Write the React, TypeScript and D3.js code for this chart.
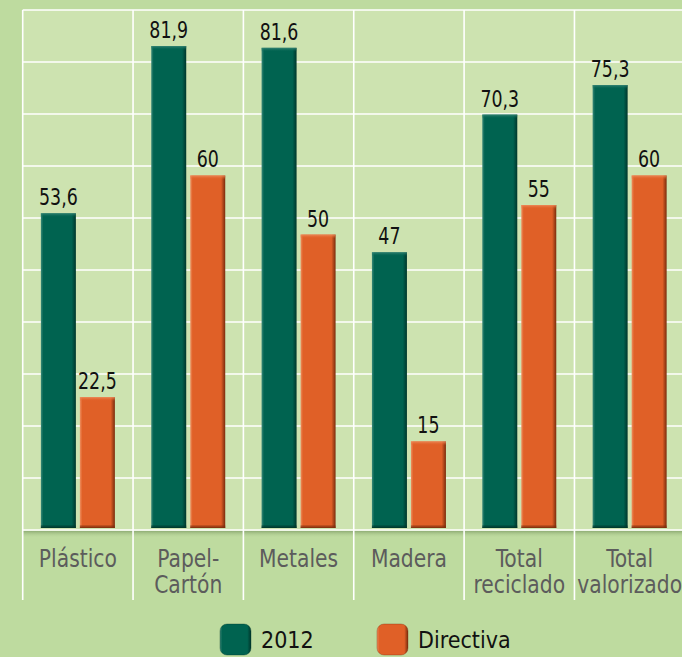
import React from "react";
import * as d3 from "d3";

const categories: string[][] = [
  ["Plástico"],
  ["Papel-", "Cartón"],
  ["Metales"],
  ["Madera"],
  ["Total", "reciclado"],
  ["Total", "valorizado"],
];
const values2012 = [53.6, 81.9, 81.6, 47, 70.3, 75.3];
const valuesDirectiva = [22.5, 60, 50, 15, 55, 60];
const labels2012 = ["53,6", "81,9", "81,6", "47", "70,3", "75,3"];
const labelsDirectiva = ["22,5", "60", "50", "15", "55", "60"];
const seriesNames = ["2012", "Directiva"];
const gridTicks = d3.range(0, 11).map((i) => i * 8.8);

const W = 682;
const H = 657;
const plotLeft = 22.7;
const bandW = 110.35;
const plotTop = 10;
const plotBottom = 530;

const OUTER = "#bedb9f";
const INNER = "#cde3b0";
const GREEN = "#006350";
const ORANGE = "#e06027";
const FONT = "'DejaVu Sans Condensed', 'DejaVu Sans', sans-serif";

export default function App() {
  const x = d3
    .scaleBand<number>()
    .domain(d3.range(categories.length))
    .range([plotLeft, plotLeft + bandW * categories.length])
    .paddingInner(0)
    .paddingOuter(0);
  const y = d3.scaleLinear().domain([0, 88]).range([plotBottom, plotTop]);
  const barW = 35;
  const gap = 4;
  const bw = x.bandwidth();

  const Bar = ({ xPos, v, id }: { xPos: number; v: number; id: string }) => {
    const top = y(v);
    const bottom = y(0) - 2;
    const h = bottom - top;
    return (
      <g>
        <rect x={xPos} y={top} width={barW} height={h} fill={`url(#h-${id})`} />
        <rect x={xPos} y={top} width={barW} height={4} fill={`url(#t-${id})`} />
        <rect x={xPos} y={bottom - 3} width={barW} height={3} fill={`url(#b-${id})`} />
      </g>
    );
  };

  const ValueLabel = ({ cx, cy, text }: { cx: number; cy: number; text: string }) => (
    <text
      transform={`translate(${cx},${cy}) scale(0.86,1)`}
      textAnchor="middle"
      fontFamily={FONT}
      fontSize={22.5}
      fill="#111"
    >
      {text}
    </text>
  );

  const grads = [
    { id: "g", base: GREEN, light: "#3b8878", dark: "#00362b" },
    { id: "o", base: ORANGE, light: "#ee9060", dark: "#7a2c0c" },
  ];

  return (
    <div style={{ position: "fixed", left: 0, top: 0 }}>
      <svg width={W} height={H} style={{ display: "block" }}>
        <defs>
          {grads.map((g) => (
            <React.Fragment key={g.id}>
              <linearGradient id={`h-${g.id}`} x1="0" x2="1" y1="0" y2="0">
                <stop offset="0" stopColor={g.light} />
                <stop offset="0.07" stopColor={g.base} />
                <stop offset="0.88" stopColor={g.base} />
                <stop offset="1" stopColor={g.dark} />
              </linearGradient>
              <linearGradient id={`t-${g.id}`} x1="0" x2="0" y1="0" y2="1">
                <stop offset="0" stopColor={g.light} stopOpacity={0.9} />
                <stop offset="1" stopColor={g.base} stopOpacity={0} />
              </linearGradient>
              <linearGradient id={`b-${g.id}`} x1="0" x2="0" y1="0" y2="1">
                <stop offset="0" stopColor={g.dark} stopOpacity={0.2} />
                <stop offset="1" stopColor={g.dark} stopOpacity={1} />
              </linearGradient>
            </React.Fragment>
          ))}
          <linearGradient id="shadow" x1="0" x2="0" y1="0" y2="1">
            <stop offset="0" stopColor="#8aa870" stopOpacity={0.9} />
            <stop offset="1" stopColor={OUTER} stopOpacity={0} />
          </linearGradient>
        </defs>
        <rect x={0} y={0} width={W} height={H} fill={OUTER} />
        <rect x={plotLeft} y={plotTop} width={W - plotLeft} height={plotBottom - plotTop} fill={INNER} />
        <rect x={plotLeft} y={plotBottom + 1} width={W - plotLeft} height={7} fill="url(#shadow)" />
        {gridTicks.map((t) => (
          <line key={t} x1={plotLeft} x2={W} y1={y(t)} y2={y(t)} stroke="#fff" strokeWidth={1.6} />
        ))}
        {d3.range(categories.length + 1).map((i) => {
          const xx = plotLeft + i * bw;
          return <line key={i} x1={xx} x2={xx} y1={plotTop} y2={600} stroke="#fff" strokeWidth={1.6} />;
        })}
        {categories.map((c, i) => {
          const x0 = x(i)!;
          const gx = x0 + (bw - 2 * barW - gap) / 2;
          const ox = gx + barW + gap;
          return (
            <g key={i}>
              <Bar xPos={gx} v={values2012[i]} id="g" />
              <Bar xPos={ox} v={valuesDirectiva[i]} id="o" />
              <ValueLabel cx={gx + barW / 2} cy={y(values2012[i]) - 8} text={labels2012[i]} />
              <ValueLabel cx={ox + barW / 2} cy={y(valuesDirectiva[i]) - 8} text={labelsDirectiva[i]} />
              {c.map((line, j) => (
                <text
                  key={j}
                  transform={`translate(${x0 + bw / 2},${567 + j * 26}) scale(0.94,1)`}
                  textAnchor="middle"
                  fontFamily={FONT}
                  fontSize={24}
                  fill="#5c5c5c"
                >
                  {line}
                </text>
              ))}
            </g>
          );
        })}
        {seriesNames.map((s, i) => {
          const lx = i === 0 ? 220 : 377;
          const id = i === 0 ? "g" : "o";
          return (
            <g key={s}>
              <rect x={lx} y={624} width={31} height={31} rx={7} fill={`url(#h-${id})`} />
              <rect x={lx} y={624} width={31} height={31} rx={7} fill="none" stroke={i === 0 ? "#00362b" : "#7a2c0c"} strokeOpacity={0.35} />
              <text x={lx + 41} y={648} fontFamily={FONT} fontSize={23} fill="#111">
                {s}
              </text>
            </g>
          );
        })}
      </svg>
    </div>
  );
}
